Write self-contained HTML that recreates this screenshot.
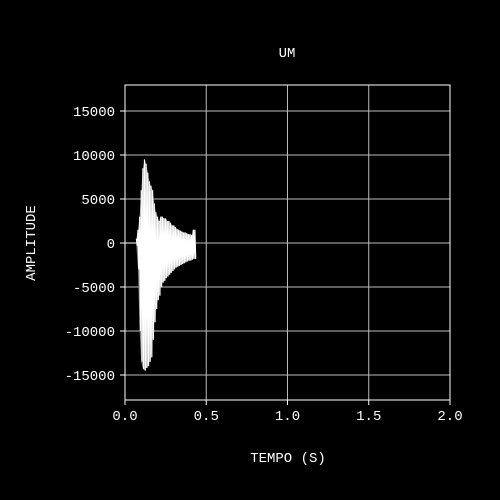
<!DOCTYPE html>
<html><head><meta charset="utf-8"><style>
html,body{margin:0;padding:0;background:#000;overflow:hidden;width:500px;height:500px;}
svg{display:block;}
svg text{font-family:"Liberation Mono",monospace;fill:#fff;font-size:14px;}
</style></head><body>
<svg id="c" width="500" height="500" xmlns="http://www.w3.org/2000/svg">
<rect width="500" height="500" fill="#000"/>
<g id="grid"></g><g id="marks"></g><g id="axes"></g>
<text x="287" y="57" text-anchor="middle">UM</text>
<text x="288" y="462" text-anchor="middle">TEMPO (S)</text>
<text transform="translate(35,243) rotate(-90)" text-anchor="middle">AMPLITUDE</text>
</svg>
<script>
const times=[0.07,0.08,0.09,0.10,0.11,0.12,0.13,0.14,0.15,0.16,0.17,0.18,0.19,0.20,0.21,0.22,0.23,0.24,0.25,0.26,0.27,0.28,0.29,0.30,0.31,0.32,0.33,0.34,0.35,0.36,0.37,0.38,0.39,0.40,0.41,0.42,0.43];
const upper=[500,1500,3000,6000,8500,9500,9000,8000,7000,6500,6000,4500,3500,3000,2500,3000,3000,2800,2800,2500,2500,2300,2000,2000,1800,1600,1500,1400,1300,1200,1200,1100,1000,1000,900,1500,1500];
const lower=[-300,-3000,-10000,-13500,-14300,-14500,-14200,-14000,-13500,-13000,-11000,-9000,-7500,-6500,-6000,-5000,-4500,-4300,-4000,-3800,-3600,-3400,-3200,-3000,-2800,-2700,-2600,-2500,-2400,-2300,-2200,-2100,-2000,-2000,-1900,-1800,-1800];
const xTicks=[0,0.5,1.0,1.5,2.0];
const xTickLabels=["0.0","0.5","1.0","1.5","2.0"];
const yTicks=[-15000,-10000,-5000,0,5000,10000,15000];
const yTickLabels=["-15000","-10000","-5000","0","5000","10000","15000"];
const L=125,R=450,T=85,B=400;
const X=t=>L+(t-0)/(2-0)*(R-L);
const Y=v=>243-v*(132/15000);
const NS="http://www.w3.org/2000/svg";
function mk(tag,at,parent){const e=document.createElementNS(NS,tag);for(const k in at)e.setAttribute(k,at[k]);parent.appendChild(e);return e;}
const grid=document.getElementById('grid'),marks=document.getElementById('marks'),axes=document.getElementById('axes');
xTicks.forEach((t,i)=>{
  const g=mk('line',{x1:X(t),x2:X(t),y1:T,y2:B,stroke:'#bbb','stroke-width':1},grid);
  
  
  mk('line',{x1:X(t),x2:X(t),y1:B,y2:B+5,stroke:'#fff'},axes);
  const tx=mk('text',{x:X(t),y:B+20,'text-anchor':'middle'},axes);tx.textContent=xTickLabels[i];
  
  
});
yTicks.forEach((v,i)=>{
  const g=mk('line',{x1:L,x2:R,y1:Y(v),y2:Y(v),stroke:'#bbb','stroke-width':1},grid);
  
  
  mk('line',{x1:L-5,x2:L,y1:Y(v),y2:Y(v),stroke:'#fff'},axes);
  const tx=mk('text',{x:L-10,y:Y(v)+5,'text-anchor':'end'},axes);tx.textContent=yTickLabels[i];
  
  
});
const frame=mk('rect',{x:L,y:T,width:R-L,height:B-T,fill:'none',stroke:'#fff'},axes);


let pts=times.map((t,i)=>X(t)+','+Y(upper[i])).concat(times.slice().reverse().map((t,j)=>{const i=times.length-1-j;return X(t)+','+Y(lower[i]);}));
const env=mk('polygon',{points:pts.join(' '),fill:'#888'},marks);


let z=[];
times.forEach((t,i)=>{z.push(X(t)+','+Y(upper[i]));z.push((X(t)+X(0.005)-L)+','+Y(lower[i]));});
const wave=mk('polyline',{points:z.join(' '),fill:'none',stroke:'#fff','stroke-width':1.2},marks);


const base=mk('line',{x1:X(0),x2:X(times[0]),y1:Y(0),y2:Y(0),stroke:'#fff'},marks);


</script>
</body></html>
